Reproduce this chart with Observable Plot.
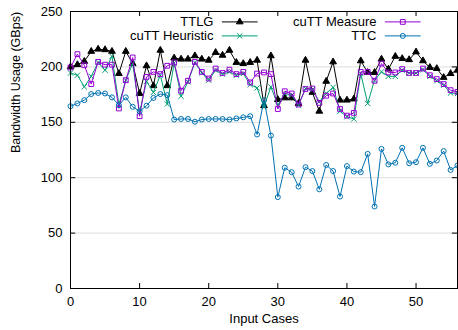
<!DOCTYPE html>
<html><head><meta charset="utf-8">
<script src="https://cdn.jsdelivr.net/npm/d3@7"></script>
<script src="https://cdn.jsdelivr.net/npm/@observablehq/plot@0.6"></script>
<style>body{margin:0;background:#fff;} #chart svg{display:block;}</style>
</head><body><div id="chart"></div>
<script>
const cases = Array.from({length: 57}, (_, i) => i);
const ttlg = [200,202,205,214,216,215.5,214,194,214,203,
  176,201,183,215,183,208,207,207,210,207,
  206,213,210.5,215,204,203,204,206,165,210,
  170.5,172,172,167,206,177,160,187,204.5,170,
  170,171,205.5,195,195,207,198,209.5,207.5,206.5,
  213.5,205.5,199.5,198.5,190.5,194,197];
const heuristic = [194.5,192.5,182,191.5,204,197,209.5,166,188,203,
  159,187,177,192.5,166.5,203.5,173.5,186.5,204,194.5,
  188,197,193.5,195.5,192.5,194,184,181,164,182,
  165.5,176,174.5,165.5,180.5,179.5,168.5,176,181.5,160,
  155,153,194,167,188,195.5,191.5,191.5,197,194.5,
  194.5,197.5,191.5,187.5,183.5,176.5,176];
const measure = [199.5,211.5,201.5,184.5,204.5,202,202,162.5,188,208.5,
  155.5,191,195.5,193.5,201,204,178.5,187.5,204.5,195.5,
  189.5,198.5,194.5,197.5,193.5,195.5,186,194,195,193.5,
  162,178,176,166,180,180.5,167.5,174,176,162,
  156,158.5,195.5,195.5,187.5,203,195,195,198,194.5,
  194.5,198.5,192.5,189,184.5,179,177.5];
const ttc = [164.5,167,170,175.5,176.5,176,172.5,165.5,172.5,164,
  160,165,172,175.5,174.5,152.5,153,153,150.5,152.5,
  153,153,153,152.5,153.5,154.5,155.5,139,170,138,
  82.5,109,105,92,109.5,106,89.5,111.5,106,83,
  110.5,105.5,105,121.5,74,126,112,113.5,127,113,
  114,127,112.5,115.5,124,107,111];
const seriesNames = ["TTLG", "cuTT Heuristic", "cuTT Measure", "TTC"];
const xTicks = [0, 10, 20, 30, 40, 50];
const yTicks = [0, 50, 100, 150, 200, 250];
const xLabel = "Input Cases";
const yLabel = "Bandwidth Usage (GBps)";

const styles = {
  "TTLG": {color: "#000000", symbol: "triangle", fill: true, r: 2.5},
  "cuTT Heuristic": {color: "#009e73", symbol: "times", fill: false, r: 2.5},
  "cuTT Measure": {color: "#9400d3", symbol: "square", fill: false, r: 2.7},
  "TTC": {color: "#0072b2", symbol: "circle", fill: false, r: 2.5}
};
const valuesBy = {"TTLG": ttlg, "cuTT Heuristic": heuristic, "cuTT Measure": measure, "TTC": ttc};

const rows = [];
for (const name of seriesNames) valuesBy[name].forEach((v, i) => rows.push({name, x: cases[i], y: v}));

// legend layout (in data units): two columns, two rows
const legendPos = {
  "TTLG": {tx: 20.69, y: 240.6},
  "cuTT Heuristic": {tx: 20.69, y: 228},
  "cuTT Measure": {tx: 44.28, y: 240.6},
  "TTC": {tx: 44.28, y: 228}
};

const marks = [
  Plot.gridY(yTicks.slice(1, -1), {stroke: "#dddddd", strokeOpacity: 1}),
  Plot.axisX(xTicks, {tickSize: 0, tickPadding: 8, fontSize: 13}),
  Plot.axisY(yTicks, {tickSize: 0, tickPadding: 8, fontSize: 13}),
  Plot.ruleY(yTicks, {x1: 0, x2: 0.75, stroke: "#000"}),
  Plot.ruleY(yTicks, {x1: 55.25, x2: 56, stroke: "#000"}),
  Plot.ruleX(xTicks, {y1: 0, y2: 4.5, stroke: "#000"}),
  Plot.ruleX(xTicks, {y1: 245.5, y2: 250, stroke: "#000"})
];
for (const name of seriesNames) {
  const s = styles[name];
  const data = rows.filter(d => d.name === name);
  marks.push(Plot.line(data, {x: "x", y: "y", stroke: s.color, strokeWidth: 1}));
  marks.push(Plot.dot(data, {x: "x", y: "y", symbol: () => s.symbol, r: s.r,
    fill: s.fill ? s.color : "none", stroke: s.color, strokeWidth: 1}));
  const p = legendPos[name];
  const ld = [{x: p.tx + 1.27, y: p.y}, {x: p.tx + 6.33, y: p.y}];
  marks.push(Plot.text([name], {x: p.tx, y: p.y, text: d => d, textAnchor: "end", fontSize: 13, fill: "#000"}));
  marks.push(Plot.line(ld, {x: "x", y: "y", stroke: s.color, strokeWidth: 1}));
  marks.push(Plot.dot([{x: p.tx + 3.8, y: p.y}], {x: "x", y: "y", symbol: () => s.symbol, r: s.r,
    fill: s.fill ? s.color : "none", stroke: s.color, strokeWidth: 1}));
}
marks.push(Plot.frame({stroke: "#000", strokeWidth: 1}));
marks.push(Plot.text([xLabel], {frameAnchor: "bottom", dy: 34, text: d => d, fontSize: 13, fill: "#000"}));
marks.push(Plot.text([yLabel], {frameAnchor: "left", dx: -55, dy: 3, rotate: -90, text: d => d, fontSize: 12.5, fill: "#000"}));

const chart = Plot.plot({
  width: 458, height: 330,
  marginLeft: 70, marginRight: 1, marginTop: 11, marginBottom: 42,
  style: {fontFamily: "'Liberation Sans', Arial, sans-serif", fontSize: "13px", color: "#000", background: "#fff", overflow: "visible"},
  x: {domain: [0, 56], label: null},
  y: {domain: [0, 250], label: null},
  marks
});
document.getElementById("chart").appendChild(chart);
</script>
</body></html>
